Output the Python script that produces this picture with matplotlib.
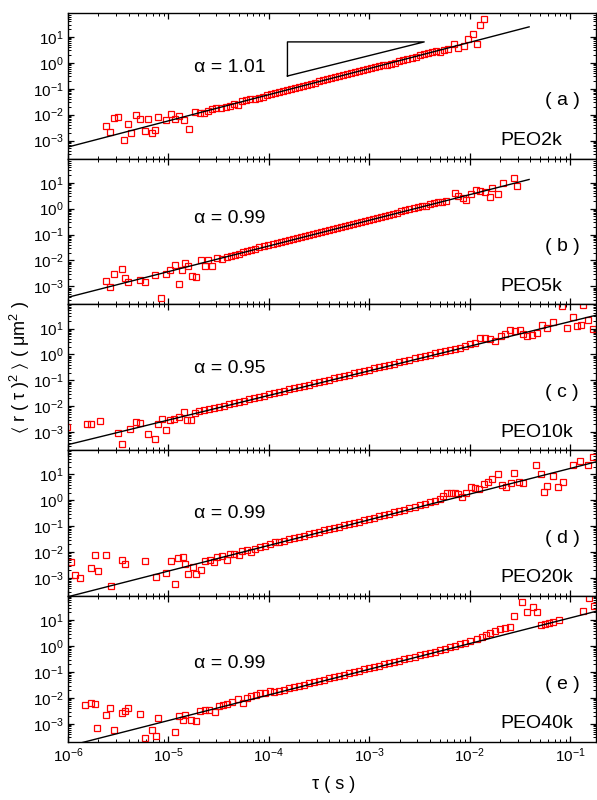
import numpy as np
import matplotlib
matplotlib.use('Agg')
import matplotlib.pyplot as plt
from matplotlib.ticker import LogLocator, LogFormatterMathtext, NullFormatter

plt.rcParams['font.family'] = ['Liberation Sans', 'DejaVu Sans']
plt.rcParams['mathtext.fontset'] = 'custom'
plt.rcParams['mathtext.rm'] = 'Liberation Sans'
plt.rcParams['mathtext.it'] = 'Liberation Sans:italic'
plt.rcParams['mathtext.default'] = 'regular'
plt.rcParams['axes.unicode_minus'] = False

# ---- data: log10(tau / s) and log10(MSD / um^2) ----
log_tau_a = [-5.627, -5.579, -5.542, -5.499, -5.438, -5.404, -5.371, -5.320, -5.280, -5.236,
             -5.206, -5.169, -5.135, -5.108, -5.024, -4.977, -4.933, -4.896, -4.843, -4.799,
             -4.732, -4.688, -4.648, -4.607, -4.567, -4.523, -4.479, -4.432, -4.388, -4.348,
             -4.304, -4.271, -4.227, -4.186, -4.143, -4.102, -4.062, -4.022,
             -3.98, -3.94, -3.90, -3.86, -3.82, -3.78, -3.74, -3.70, -3.66, -3.62,
             -3.58, -3.54, -3.50, -3.46, -3.42, -3.38, -3.34, -3.30, -3.26, -3.22,
             -3.18, -3.14, -3.10, -3.06, -3.02, -2.98, -2.94, -2.90, -2.86, -2.82,
             -2.78, -2.74, -2.70, -2.66, -2.62, -2.58, -2.54, -2.50, -2.46, -2.42,
             -2.38, -2.34, -2.30, -2.26, -2.22,
             -2.157, -2.117, -2.057, -2.016, -1.972, -1.932, -1.895, -1.858]
log_msd_a = [-2.445, -2.665, -2.135, -2.084, -2.987, -2.381, -2.703, -2.019, -2.187, -2.639,
             -2.187, -2.703, -2.600, -2.084, -2.213, -1.968, -2.187, -2.058, -2.226, -2.561,
             -1.903, -1.955, -1.955, -1.852, -1.800, -1.761, -1.735, -1.710, -1.671, -1.594,
             -1.645, -1.477, -1.439, -1.387, -1.387, -1.348, -1.310, -1.258,
             -1.20, -1.16, -1.12, -1.08, -1.04, -1.00, -0.96, -0.93, -0.88, -0.84,
             -0.80, -0.77, -0.72, -0.68, -0.64, -0.60, -0.56, -0.52, -0.48, -0.44,
             -0.40, -0.36, -0.32, -0.28, -0.25, -0.21, -0.18, -0.14, -0.10, -0.07,
             -0.04, 0.01, 0.06, 0.11, 0.15, 0.20, 0.24, 0.29, 0.34, 0.38,
             0.41, 0.45, 0.43, 0.50, 0.55,
             0.742, 0.561, 0.652, 0.935, 1.103, 0.716, 1.477, 1.684]

log_tau_b = [-5.627, -5.579, -5.539, -5.462, -5.435, -5.404, -5.280, -5.236, -5.132, -5.071,
             -5.024, -4.980, -4.937, -4.896, -4.866, -4.836, -4.802, -4.768, -4.725, -4.678,
             -4.634, -4.604, -4.567, -4.513, -4.466, -4.422, -4.378, -4.338, -4.297, -4.260,
             -4.220, -4.176, -4.136, -4.096, -4.048, -4.008,
             -3.96, -3.92, -3.88, -3.84, -3.80, -3.76, -3.72, -3.68, -3.64, -3.60,
             -3.56, -3.52, -3.48, -3.44, -3.40, -3.36, -3.32, -3.28, -3.24, -3.20,
             -3.16, -3.12, -3.08, -3.04, -3.00, -2.96, -2.92, -2.88, -2.84, -2.80,
             -2.76, -2.72, -2.68, -2.64, -2.60, -2.56, -2.52, -2.48, -2.44, -2.40,
             -2.36, -2.32, -2.28, -2.24,
             -2.151, -2.117, -2.067, -2.033, -1.983, -1.942, -1.898, -1.848, -1.797, -1.774,
             -1.720, -1.673, -1.562, -1.528]
log_msd_b = [-2.781, -3.039, -2.510, -2.329, -2.665, -2.832, -2.755, -2.819, -2.561, -3.452,
             -2.535, -2.381, -2.187, -2.910, -2.368, -2.084, -2.213, -2.587, -2.652, -1.994,
             -2.226, -1.994, -2.226, -1.890, -1.929, -1.852, -1.813, -1.787, -1.735, -1.671,
             -1.619, -1.581, -1.542, -1.490, -1.439, -1.387,
             -1.37, -1.33, -1.29, -1.25, -1.21, -1.17, -1.13, -1.09, -1.05, -1.01,
             -0.97, -0.93, -0.89, -0.86, -0.82, -0.78, -0.74, -0.70, -0.66, -0.62,
             -0.58, -0.54, -0.50, -0.46, -0.42, -0.39, -0.35, -0.31, -0.27, -0.24,
             -0.20, -0.15, -0.10, -0.07, -0.03, 0.01, 0.05, 0.09, 0.12, 0.16,
             0.20, 0.24, 0.27, 0.31,
             0.587, 0.497, 0.419, 0.316, 0.548, 0.716, 0.677, 0.652, 0.458, 0.806,
             0.548, 0.987, 1.194, 0.871]

log_tau_c = [-6.01, -5.812, -5.775, -5.680, -5.499, -5.465, -5.381, -5.320, -5.280, -5.203,
             -5.135, -5.108, -5.068, -5.024, -4.984, -4.943, -4.896, -4.843, -4.819, -4.775,
             -4.732,
             -4.70, -4.65, -4.60, -4.55, -4.50, -4.45, -4.40, -4.35, -4.30, -4.25,
             -4.20, -4.15, -4.10, -4.05, -4.00, -3.95, -3.90, -3.85, -3.80, -3.75,
             -3.70, -3.65, -3.60, -3.55, -3.50, -3.45, -3.40, -3.35, -3.30, -3.25,
             -3.20, -3.15, -3.10, -3.05, -3.00, -2.95, -2.90, -2.85, -2.80, -2.75,
             -2.70, -2.65, -2.60, -2.55, -2.50, -2.45, -2.40, -2.35, -2.30, -2.25,
             -2.20, -2.15, -2.10,
             -2.050, -2.000, -1.949, -1.898, -1.848, -1.797, -1.747, -1.686, -1.646, -1.596,
             -1.545, -1.495, -1.471, -1.427, -1.377, -1.333, -1.283, -1.226, -1.175, -1.081,
             -1.030, -0.973, -0.933, -0.889, -0.872, -0.822, -0.771]
log_msd_c = [-2.806, -2.677, -2.677, -2.574, -3.026, -3.452, -2.871, -2.600, -2.626, -3.065,
             -3.245, -2.665, -2.484, -2.910, -2.548, -2.471, -2.394, -2.213, -2.510, -2.548,
             -2.252,
             -2.20, -2.16, -2.11, -2.06, -2.02, -1.97, -1.92, -1.87, -1.83, -1.78,
             -1.73, -1.68, -1.64, -1.59, -1.54, -1.49, -1.45, -1.40, -1.35, -1.30,
             -1.26, -1.21, -1.16, -1.11, -1.07, -1.02, -0.97, -0.92, -0.88, -0.83,
             -0.78, -0.73, -0.69, -0.64, -0.59, -0.54, -0.49, -0.44, -0.39, -0.35,
             -0.30, -0.25, -0.20, -0.15, -0.11, -0.06, -0.01, 0.04, 0.09, 0.14,
             0.18, 0.22, 0.26,
             0.329, 0.394, 0.458, 0.626, 0.652, 0.613, 0.523, 0.716, 0.806, 0.935,
             0.910, 0.935, 0.781, 0.716, 0.755, 0.845, 1.142, 1.013, 1.271, 1.877,
             1.039, 1.452, 1.103, 1.142, 1.916, 1.323, 0.974]

log_tau_d = [-5.970, -5.926, -5.879, -5.768, -5.727, -5.700, -5.623, -5.576, -5.465, -5.431,
             -5.236, -5.128, -5.028, -4.977, -4.937, -4.903, -4.859, -4.832, -4.802, -4.758,
             -4.725, -4.681, -4.641, -4.590, -4.546, -4.513, -4.469, -4.422, -4.385, -4.345,
             -4.297, -4.271, -4.220, -4.176, -4.136, -4.085, -4.035, -3.985, -3.944,
             -3.90, -3.85, -3.80, -3.75, -3.70, -3.65, -3.60, -3.55, -3.50, -3.45,
             -3.40, -3.35, -3.30, -3.25, -3.20, -3.15, -3.10, -3.05, -3.00, -2.95,
             -2.90, -2.85, -2.80, -2.75, -2.70, -2.65, -2.60, -2.55, -2.50, -2.45,
             -2.40, -2.35, -2.30,
             -2.265, -2.225, -2.188, -2.151, -2.114, -2.077, -2.033, -1.989, -1.949, -1.909,
             -1.858, -1.821, -1.774, -1.720, -1.680, -1.636, -1.585, -1.562, -1.511, -1.471,
             -1.343, -1.293, -1.259, -1.226, -1.175, -1.125, -1.074, -0.973, -0.906, -0.822,
             -0.771]
log_msd_d = [-2.381, -2.897, -3.013, -2.600, -2.123, -2.729, -2.110, -3.323, -2.316, -2.458,
             -2.342, -2.961, -2.806, -2.342, -3.245, -2.213, -2.187, -2.445, -2.832, -2.574,
             -2.858, -2.677, -2.355, -2.316, -2.368, -2.187, -2.135, -2.316, -2.084, -2.058,
             -2.123, -1.968, -1.929, -1.994, -1.877, -1.800, -1.774, -1.671, -1.619,
             -1.61, -1.56, -1.51, -1.46, -1.41, -1.36, -1.31, -1.26, -1.21, -1.16,
             -1.11, -1.07, -1.02, -0.97, -0.92, -0.87, -0.82, -0.77, -0.72, -0.67,
             -0.62, -0.57, -0.51, -0.46, -0.41, -0.36, -0.30, -0.25, -0.20, -0.14,
             -0.08, -0.02, 0.04,
             0.16, 0.265, 0.27, 0.265, 0.25, 0.110, 0.290, 0.497, 0.458, 0.419,
             0.613, 0.716, 0.806, 1.013, 0.587, 0.523, 0.652, 1.039, 0.716, 0.652,
             1.361, 1.013, 0.329, 0.548, 0.935, 0.523, 0.716, 1.361, 1.529, 1.361,
             1.658]

log_tau_e = [-5.835, -5.775, -5.734, -5.707, -5.627, -5.583, -5.539, -5.465, -5.431, -5.404,
             -5.280, -5.236, -5.169, -5.128, -5.105, -4.937, -4.900, -4.859, -4.832, -4.775,
             -4.725, -4.684, -4.641, -4.597, -4.540, -4.496, -4.455, -4.422, -4.371, -4.304,
             -4.260, -4.220, -4.176, -4.129, -4.085, -4.035, -3.991,
             -3.95, -3.90, -3.85, -3.80, -3.75, -3.70, -3.65, -3.60, -3.55, -3.50,
             -3.45, -3.40, -3.35, -3.30, -3.25, -3.20, -3.15, -3.10, -3.05, -3.00,
             -2.95, -2.90, -2.85, -2.80, -2.75, -2.70, -2.65, -2.60, -2.55, -2.50,
             -2.45, -2.40, -2.35, -2.30, -2.25, -2.20, -2.15, -2.10, -2.05, -2.00,
             -1.932, -1.882, -1.841, -1.797, -1.747, -1.697, -1.646, -1.596, -1.562, -1.478,
             -1.427, -1.370, -1.326, -1.293, -1.249, -1.215, -1.168, -1.114, -0.872, -0.811,
             -0.764]
log_msd_e = [-2.277, -2.213, -2.239, -3.142, -2.652, -2.394, -3.219, -2.574, -2.510, -2.394,
             -2.600, -3.542, -3.219, -3.452, -2.768, -3.323, -2.703, -2.832, -2.639, -2.832,
             -2.897, -2.510, -2.471, -2.445, -2.548, -2.316, -2.290, -2.226, -2.161, -2.032,
             -2.213, -1.994, -1.929, -1.877, -1.826, -1.800, -1.748,
             -1.77, -1.72, -1.68, -1.63, -1.58, -1.53, -1.48, -1.43, -1.38, -1.33,
             -1.29, -1.24, -1.19, -1.14, -1.10, -1.05, -1.00, -0.95, -0.90, -0.85,
             -0.80, -0.75, -0.70, -0.65, -0.60, -0.56, -0.51, -0.46, -0.41, -0.36,
             -0.31, -0.26, -0.21, -0.16, -0.10, -0.04, 0.02, 0.07, 0.13, 0.19,
             0.290, 0.368, 0.432, 0.523, 0.600, 0.652, 0.690, 0.742, 1.168, 1.710,
             1.335, 1.529, 1.323, 0.806, 0.871, 0.910, 0.935, 1.013, 1.374, 1.877,
             1.555]

log_taus = [log_tau_a, log_tau_b, log_tau_c, log_tau_d, log_tau_e]
log_msds = [log_msd_a, log_msd_b, log_msd_c, log_msd_d, log_msd_e]

# power-law fits: MSD = 10**fit_logy0 * (tau / 1e-6) ** alpha
fit_alpha = [1.01, 0.99, 0.95, 0.99, 0.99]
fit_logy0 = [-3.25, -3.42, -3.48, -3.72, -3.86]
fit_tau_start = [1e-6, 1e-6, 1e-6, 1e-6, 1e-6]
fit_tau_end = [0.039, 0.039, 0.2, 0.2, 0.2]

panel_tags = ['( a )', '( b )', '( c )', '( d )', '( e )']
samples = ['PEO2k', 'PEO5k', 'PEO10k', 'PEO20k', 'PEO40k']
alpha_y = [0.625, 0.59, 0.56, 0.57, 0.535]

# slope triangle in panel (a)
tri_tau = [1.53e-4, 3.52e-3, 1.53e-4, 1.53e-4]
tri_msd = [0.309, 6.4, 6.4, 0.309]

fig, axes = plt.subplots(5, 1, sharex=True, figsize=(5.97, 8.0), dpi=100)
fig.subplots_adjust(left=0.114, right=0.998, top=0.984, bottom=0.0725, hspace=0)

for i, ax in enumerate(axes):
    tau = 10 ** np.array(log_taus[i])
    msd = 10 ** np.array(log_msds[i])
    ax.plot(tau, msd, ls='none', marker='s', ms=4.8, mfc='none', mec='red', mew=0.9)

    t_fit = np.array([fit_tau_start[i], fit_tau_end[i]])
    m_fit = 10 ** (fit_logy0[i] + fit_alpha[i] * (np.log10(t_fit) + 6))
    ax.plot(t_fit, m_fit, color='black', lw=1.0)

    ax.set_xscale('log')
    ax.set_yscale('log')
    ax.set_xlim(1e-6, 0.18)
    ax.set_ylim(2e-4, 85)

    ax.xaxis.set_major_locator(LogLocator(base=10, numticks=20))
    ax.xaxis.set_minor_locator(LogLocator(base=10, subs=np.arange(2, 10), numticks=20))
    ax.yaxis.set_major_locator(LogLocator(base=10, numticks=20))
    ax.yaxis.set_minor_locator(LogLocator(base=10, subs=np.arange(2, 10), numticks=20))
    ax.yaxis.set_major_formatter(LogFormatterMathtext())
    ax.xaxis.set_major_formatter(LogFormatterMathtext())
    ax.yaxis.set_minor_formatter(NullFormatter())
    ax.xaxis.set_minor_formatter(NullFormatter())

    ax.tick_params(which='both', direction='in', top=True, right=True, labelsize=11)
    ax.tick_params(which='major', length=4, width=0.9, pad=3)
    ax.tick_params(which='minor', length=2, width=0.7)
    for s in ax.spines.values():
        s.set_linewidth(1.0)

    ax.text(0.238, alpha_y[i], 'α = %.2f' % fit_alpha[i], transform=ax.transAxes,
            fontsize=14, ha='left', va='center')
    ax.text(0.903, 0.397, panel_tags[i], transform=ax.transAxes,
            fontsize=14, ha='left', va='center')
    ax.text(0.82, 0.125, samples[i], transform=ax.transAxes,
            fontsize=14, ha='left', va='center')

axes[0].plot(tri_tau, tri_msd, color='black', lw=1.0)

fig.text(0.033, 0.541, r'$\langle$ r ( τ )$^2$ $\rangle$ ( μm$^2$ )', rotation=90,
         ha='center', va='center', fontsize=13)
fig.text(0.558, 0.019, 'τ ( s )', ha='center', va='center', fontsize=13)

fig.savefig('out.png', dpi=100)
